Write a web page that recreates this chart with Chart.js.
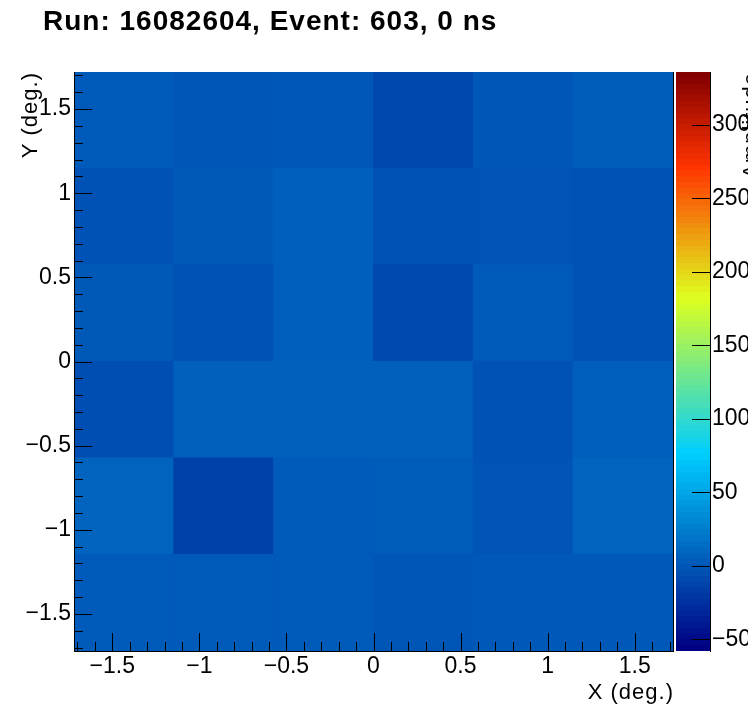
<!DOCTYPE html>
<html><head><meta charset="utf-8">
<script src="https://cdn.jsdelivr.net/npm/chart.js@4.4.1/dist/chart.umd.min.js"></script>
<style>html,body{margin:0;padding:0;background:#fff;overflow:hidden}#wrap{width:748px;height:724px;position:relative}</style>
</head><body><div id="wrap"><canvas id="c" width="748" height="724"></canvas></div>
<script>
// ---------- data ----------
const chartTitle = 'Run: 16082604, Event: 603, 0 ns';
const xTitle = 'X (deg.)';
const yTitle = 'Y (deg.)';
const zTitle = 'Amplitude';
const xBinCenters = [-1.4333, -0.86, -0.2867, 0.2867, 0.86, 1.4333];
const yBinCenters = [-1.4333, -0.86, -0.2867, 0.2867, 0.86, 1.4333];
// amplitude per row, bottom row first, columns left -> right
const ampRow1 = [0.4, 0.4, 0.4, -2.2, 0.0, 0.0];
const ampRow2 = [6.9, -16.5, 0.4, 1.0, -3.5, 6.9];
const ampRow3 = [-7.4, 4.3, 4.3, 4.3, -4.8, 3.6];
const ampRow4 = [-1.0, -4.8, 3.6, -10.6, 0.4, -4.2];
const ampRow5 = [-4.8, -1.0, 3.6, -4.8, -3.5, -4.2];
const ampRow6 = [0.4, -2.2, -1.6, -11.3, -2.2, 1.0];
const xTicks = [-1.5, -1, -0.5, 0, 0.5, 1, 1.5];
const yTicks = [-1.5, -1, -0.5, 0, 0.5, 1, 1.5];
const zTicks = [-50, 0, 50, 100, 150, 200, 250, 300];
const xRange = [-1.72, 1.72];
const yRange = [-1.72, 1.72];
const zRange = [-58, 336];

// ---------- palette ----------
const palStops = [0.00, 0.34, 0.61, 0.84, 1.00];
const palR = [0.00, 0.00, 0.87, 1.00, 0.51];
const palG = [0.00, 0.81, 1.00, 0.20, 0.00];
const palB = [0.51, 1.00, 0.12, 0.00, 0.00];
function palColor(f) {
  f = Math.max(0, Math.min(1, f));
  let i = 0;
  while (i < palStops.length - 2 && f > palStops[i + 1]) i++;
  const t = (f - palStops[i]) / (palStops[i + 1] - palStops[i]);
  const c = a => Math.round(255 * (a[i] + (a[i + 1] - a[i]) * t));
  return `rgb(${c(palR)},${c(palG)},${c(palB)})`;
}
function zColor(v) { return palColor((v - zRange[0]) / (zRange[1] - zRange[0])); }
const fmt = v => String(v).replace('-', '\u2212');
const FONT = '"Liberation Sans", Arial, Helvetica, sans-serif';

const rows = [ampRow1, ampRow2, ampRow3, ampRow4, ampRow5, ampRow6];
const binH = yBinCenters[1] - yBinCenters[0];
const datasets = rows.map((row, r) => ({
  data: row.map((v, c) => ({ x: xBinCenters[c], y: [yBinCenters[r] - binH / 2, yBinCenters[r] + binH / 2], v })),
  backgroundColor: ctx => (ctx.raw ? zColor(ctx.raw.v) : '#000'),
  borderWidth: 0,
  grouped: false,
  barPercentage: 1,
  categoryPercentage: 1,
  inflateAmount: 0.5,
  xAxisID: 'xb',
  yAxisID: 'y'
}));

const decor = {
  id: 'decor',
  afterDraw(chart) {
    const ctx = chart.ctx;
    const a = chart.chartArea;
    const xs = chart.scales.x, ys = chart.scales.y, zs = chart.scales.z;
    ctx.save();
    // palette strip
    const N = 100, pl = 676, pr = 710;
    for (let i = 0; i < N; i++) {
      const v0 = zRange[0] + (zRange[1] - zRange[0]) * i / N;
      const v1 = zRange[0] + (zRange[1] - zRange[0]) * (i + 1) / N;
      const y0 = Math.round(zs.getPixelForValue(v0));
      const y1 = Math.round(zs.getPixelForValue(v1));
      ctx.fillStyle = palColor(i / (N - 1));
      ctx.fillRect(pl, y1, pr - pl, y0 - y1);
    }
    ctx.strokeStyle = '#000';
    ctx.lineWidth = 1;
    ctx.beginPath();
    ctx.moveTo(a.left + 0.5, a.top); ctx.lineTo(a.left + 0.5, a.bottom + 1);
    ctx.moveTo(a.left, a.bottom + 0.5); ctx.lineTo(a.right + 1, a.bottom + 0.5);
    ctx.moveTo(a.right + 0.5, a.top); ctx.lineTo(a.right + 0.5, a.bottom + 1);
    ctx.moveTo(pr + 0.5, a.top); ctx.lineTo(pr + 0.5, a.bottom + 1);
    for (let k = -17; k <= 17; k++) {
      const px = Math.round(xs.getPixelForValue(k / 10)) + 0.5;
      const len = (k % 5 === 0) ? 18 : 9;
      ctx.moveTo(px, a.bottom); ctx.lineTo(px, a.bottom - len);
    }
    for (let k = -17; k <= 17; k++) {
      const py = Math.round(ys.getPixelForValue(k / 10)) + 0.5;
      const len = (k % 5 === 0) ? 18 : 9;
      ctx.moveTo(a.left, py); ctx.lineTo(a.left + len, py);
    }
    zTicks.forEach(v => {
      const py = Math.round(zs.getPixelForValue(v)) + 0.5;
      ctx.moveTo(pr, py); ctx.lineTo(pr - 18, py);
    });
    ctx.stroke();
    // texts
    ctx.fillStyle = '#000';
    ctx.letterSpacing = '1px';
    ctx.font = 'bold 28px ' + FONT;
    ctx.textAlign = 'left';
    ctx.textBaseline = 'alphabetic';
    ctx.fillText(chartTitle, 43, 30);
    ctx.font = '22px ' + FONT;
    ctx.textAlign = 'right';
    ctx.fillText(xTitle, a.right + 1, 699);
    ctx.save();
    ctx.translate(37, a.top);
    ctx.rotate(-Math.PI / 2);
    ctx.fillText(yTitle, 0, 0);
    ctx.restore();
    ctx.save();
    ctx.translate(758, a.top);
    ctx.rotate(-Math.PI / 2);
    ctx.fillText(zTitle, 0, 0);
    ctx.restore();
    ctx.restore();
  }
};

const tickFont = { family: FONT, size: 23 };
new Chart(document.getElementById('c'), {
  type: 'bar',
  data: { datasets },
  options: {
    responsive: false,
    animation: false,
    events: [],
    layout: { padding: { top: 72, left: 0, right: 0, bottom: 0 } },
    plugins: { legend: { display: false }, tooltip: { enabled: false }, title: { display: false } },
    scales: {
      xb: {
        type: 'linear', axis: 'x', position: 'bottom', min: xRange[0], max: xRange[1], offset: false, display: false,
        afterBuildTicks: s => { s.ticks = []; }
      },
      x: {
        type: 'linear', position: 'bottom', min: xRange[0], max: xRange[1], offset: false,
        afterBuildTicks: s => { s.ticks = xTicks.map(v => ({ value: v })); },
        afterFit: s => { s.height = 73; },
        grid: { display: false, drawTicks: false }, border: { display: false },
        ticks: { callback: v => fmt(v), font: tickFont, color: '#000', padding: 2, maxRotation: 0, autoSkip: false }
      },
      y: {
        type: 'linear', position: 'left', min: yRange[0], max: yRange[1],
        afterBuildTicks: s => { s.ticks = yTicks.map(v => ({ value: v })); },
        afterFit: s => { s.width = 74; },
        grid: { display: false, drawTicks: false }, border: { display: false },
        ticks: { callback: v => fmt(v), font: tickFont, color: '#000', padding: 3, autoSkip: false }
      },
      z: {
        type: 'linear', axis: 'y', position: 'right', min: zRange[0], max: zRange[1],
        afterBuildTicks: s => { s.ticks = zTicks.map(v => ({ value: v })); },
        afterFit: s => { s.width = 75; },
        grid: { display: false, drawTicks: false }, border: { display: false },
        ticks: { callback: v => fmt(v), font: tickFont, color: '#000', padding: 39, autoSkip: false }
      }
    }
  },
  plugins: [decor]
});
</script>
</body></html>
